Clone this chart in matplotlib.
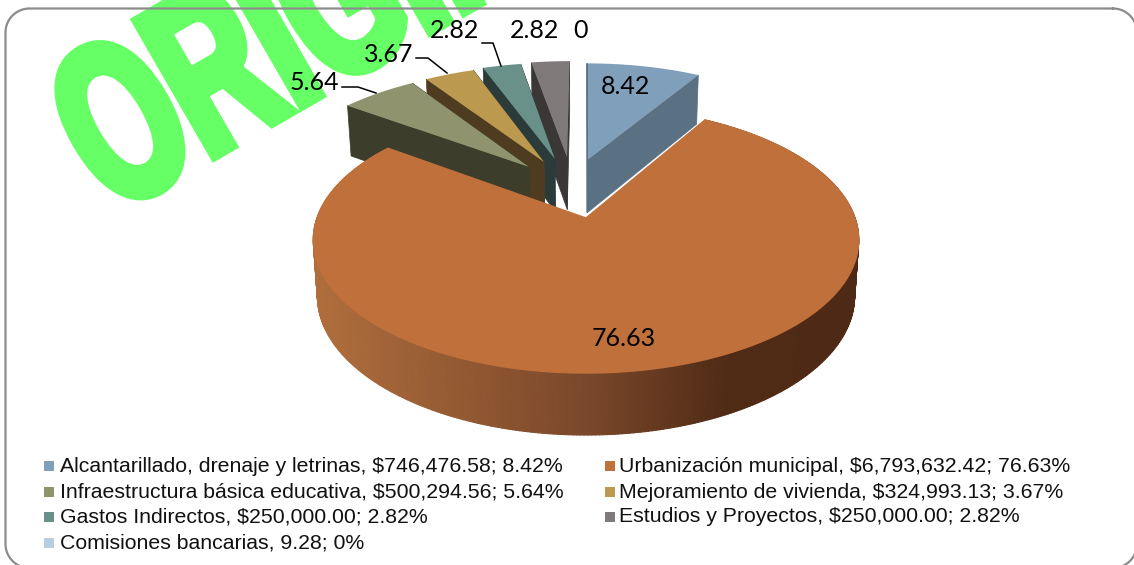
import numpy as np
import matplotlib
matplotlib.use("Agg")
from matplotlib import pyplot as plt
from matplotlib import patheffects
from matplotlib.patches import Polygon, Rectangle
from matplotlib.collections import PolyCollection
from matplotlib.colors import to_rgb
from matplotlib.transforms import Affine2D

W, H = 1134, 565

categories = ["Alcantarillado, drenaje y letrinas", "Urbanización municipal",
              "Infraestructura básica educativa", "Mejoramiento de vivienda",
              "Gastos Indirectos", "Estudios y Proyectos", "Comisiones bancarias"]
amounts = [746476.58, 6793632.42, 500294.56, 324993.13, 250000.00, 250000.00, 9.28]
amount_labels = ["$746,476.58", "$6,793,632.42", "$500,294.56", "$324,993.13",
                 "$250,000.00", "$250,000.00", "9.28"]
pct_labels = ["8.42%", "76.63%", "5.64%", "3.67%", "2.82%", "2.82%", "0%"]
data_labels = ["8.42", "76.63", "5.64", "3.67", "2.82", "2.82", "0"]

top_colors = ["#7f9fba", "#c0703b", "#8f946f", "#bb9a4f", "#6a9189", "#7f7979", "#b7cde0"]
wall_colors = ["#5a7083", "#4e2a15", "#3d3d2b", "#4f3c20", "#2a3b39", "#3b3736", "#5a7083"]

# slice offsets on the pie plane (explosion), radius = 1
offsets = [(0.005, 0.483), (0, 0), (-0.2265, 0.421), (-0.168, 0.465),
           (-0.125, 0.492), (-0.0766, 0.51), (0.005, 0.483)]
label_pos = [(625, 87), (624, 339), (314, 83), (389, 55), (455, 31), (535, 31), (581, 31)]
leaders = [None, None,
           [(342, 87), (358, 87), (376, 93)],
           [(416, 58), (428, 58), (447, 73)],
           [(482, 43), (493, 43), (501, 66)],
           None, None]

# perspective of the pie plane
CX, CY, A, B, K = 586, 218, 269, 129.6, 0.164
DEPTH_FAR, DEPTH_SLOPE, SHRINK = 49, 0.0435, 0.985


def top_xy(u, v):
    d = 1 + K * v
    return CX + A * u / d, CY - B * v / d


def low_xy(x, y):
    return CX + SHRINK * (x - CX), y + DEPTH_FAR + (y - 74) * DEPTH_SLOPE


def outline(start, end, off, n=400):
    th = np.radians(np.linspace(start, end, n))
    return off[0] + np.sin(th), off[1] + np.cos(th)


def wall(ax, p, q, color, z):
    # one flat wall under the top edge going from p to q
    x = [p[0], q[0]]
    y = [p[1], q[1]]
    lx, ly = low_xy(np.array(x), np.array(y))
    ax.add_patch(Polygon(list(zip(x, y)) + list(zip(lx[::-1], ly[::-1])),
                         closed=True, fc=color, ec=color, lw=0.5, zorder=z))


def wall_gradient(x):
    # shading of the big rim, light on the left and dark on the right
    stops_x = [313, 590, 730, 860]
    c0, c1, c2, c3 = [np.array(to_rgb(c)) for c in ["#b06e3c", "#79472a", "#4f2a15", "#4e2915"]]
    return [np.interp(x, stops_x, [c0[i], c1[i], c2[i], c3[i]]) for i in range(3)]


def round_frame(x0, y0, x1, y1, r):
    # rounded box as a plain polyline, the curved patch breaks when it leaves the canvas
    xs, ys = [], []
    corners = [(x1 - r, y0 + r, -90), (x1 - r, y1 - r, 0), (x0 + r, y1 - r, 90), (x0 + r, y0 + r, 180)]
    for cx, cy, a in corners:
        t = np.radians(np.linspace(a, a + 90, 30))
        xs += list(cx + r * np.cos(t))
        ys += list(cy + r * np.sin(t))
    return xs + xs[:1], ys + ys[:1]


fig = plt.figure(figsize=(W / 100, H / 100), dpi=100)
ax = fig.add_axes([0, 0, 1, 1])
ax.set_xlim(0, W)
ax.set_ylim(H, 0)
ax.axis("off")


class Squeeze(patheffects.AbstractPathEffect):
    # narrows the glyphs along the rotated baseline and thickens them
    def __init__(self, xy, angle, sx, stroke):
        super().__init__()
        self.xy, self.angle, self.sx, self.stroke = xy, angle, sx, stroke

    def draw_path(self, renderer, gc, tpath, affine, rgbFace=None):
        px, py = self.xy
        tr = (Affine2D().translate(-px, -py).rotate_deg(-self.angle)
              .scale(self.sx, 1).rotate_deg(self.angle).translate(px, py))
        gc2 = renderer.new_gc()
        gc2.copy_properties(gc)
        gc2.set_foreground(rgbFace)
        gc2.set_linewidth(self.stroke)
        gc2.set_joinstyle("miter")
        renderer.draw_path(gc2, tpath, affine + tr, rgbFace)
        gc2.restore()


# watermark
mark = ax.text(112, 215, "ORIGINAL", color="#66ff66", fontsize=163, fontweight="bold",
               family="Liberation Sans", rotation=30, rotation_mode="anchor",
               ha="left", va="baseline", zorder=1)
anchor = ax.transData.transform((112, 215))
mark.set_path_effects([Squeeze(anchor, 30, 0.62, 7.5)])

# frame
fx, fy = round_frame(5.5, 8.5, 1137, 568, 24)
ax.plot(fx, fy, color="#8c8c8c", lw=1.6, zorder=2)

# slices, angles come from the amounts
fracs = np.array(amounts) / sum(amounts) * 360
ends = np.cumsum(fracs)
starts = ends - fracs

# back slices go right to left so the left ones cover the walls, big slice last
order = [0, 6, 5, 4, 3, 2, 1]
z = 3
for i in order:
    off = offsets[i]
    u, v = outline(starts[i], ends[i], off)
    x, y = top_xy(u, v)
    apex = top_xy(*off)
    if i == 1:
        lx, ly = low_xy(x, y)
        quads = [[(x[j], y[j]), (x[j + 1], y[j + 1]), (lx[j + 1], ly[j + 1]), (lx[j], ly[j])]
                 for j in range(len(x) - 1)]
        cols = [wall_gradient((x[j] + x[j + 1]) / 2) for j in range(len(x) - 1)]
        ax.add_collection(PolyCollection(quads, facecolors=cols, edgecolors=cols, linewidths=0.8, zorder=z))
        ax.add_patch(Polygon([apex] + list(zip(x, y)), closed=True, fc=top_colors[i],
                             ec=top_colors[i], lw=1.0, zorder=z + 0.5))
    else:
        wall(ax, apex, (x[0], y[0]), wall_colors[i], z)
        wall(ax, apex, (x[-1], y[-1]), wall_colors[i], z)
        ax.add_patch(Polygon([apex] + list(zip(x, y)), closed=True, fc=top_colors[i],
                             ec="none", zorder=z + 0.5))
    z += 1

# data labels
for lab, (lx, ly), lead in zip(data_labels, label_pos, leaders):
    ax.text(lx, ly, lab, fontsize=18, family="Lato", ha="center", va="center", color="black", zorder=20)
    if lead:
        ax.plot(*zip(*lead), color="black", lw=1.1, zorder=20)

# legend
swatch_x = [44, 605]
text_x = [60, 619]
row_y = [466, 492, 517, 543]
for i, cat in enumerate(categories):
    col = i % 2
    ry = row_y[i // 2]
    ax.add_patch(Rectangle((swatch_x[col], ry - 5), 10, 10, fc=top_colors[i], ec="none", zorder=20))
    ax.text(text_x[col], ry, f"{cat}, {amount_labels[i]}; {pct_labels[i]}", fontsize=15.35,
            family="Liberation Sans", ha="left", va="center", color="#111111", zorder=20)

fig.savefig("out.png", dpi=100)
